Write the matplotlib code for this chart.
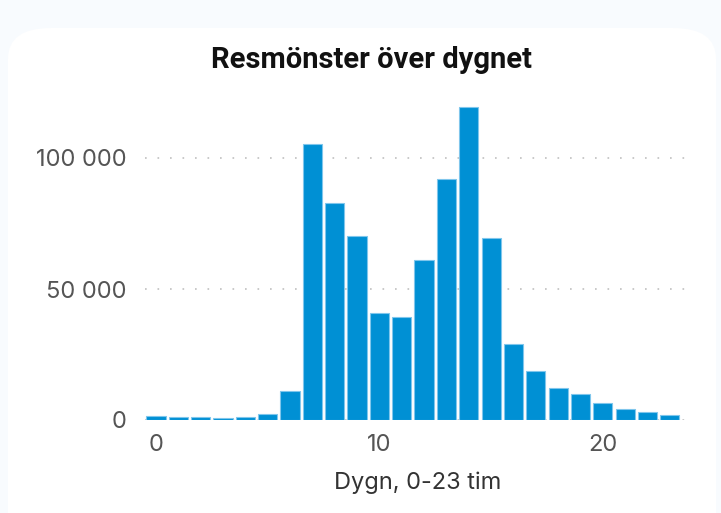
import numpy as np
import matplotlib.pyplot as plt
from matplotlib.patches import FancyBboxPatch
from matplotlib.ticker import FuncFormatter

# trips per hour of day
hours = np.arange(24)
trips = [1600, 1200, 1000, 900, 1000, 2400, 11000, 105300, 82800, 70200,
         40800, 39300, 61100, 92000, 119500, 69500, 29000, 18700, 12200,
         9900, 6500, 4200, 3000, 1900]

title = 'Resmönster över dygnet'
xlabel = 'Dygn, 0-23 tim'
yticks = [0, 50000, 100000]
xticks = [0, 10, 20]

plt.rcParams['font.family'] = ['Inter', 'DejaVu Sans']

fig = plt.figure(figsize=(7.21, 5.13), dpi=100)
fig.patch.set_facecolor('#f8fbfe')

# white card with rounded corners
card = FancyBboxPatch((8/721, -40/513), (716 - 8)/721, (40 + 513 - 28)/513,
                      boxstyle='round,pad=0,rounding_size=0.06',
                      transform=fig.transFigure, facecolor='white',
                      edgecolor='none', zorder=-5)
fig.patches.append(card)

ax = fig.add_axes([145/721, 93/513, 545/721, 327.5/513])
ax.set_facecolor('none')
ax.set_zorder(2)

ax.bar(hours, trips, width=0.86, color='#0090d4', edgecolor='#7fc6ec',
       linewidth=0.8, zorder=3)

ax.set_xlim(-0.49, 23.9)
ax.set_ylim(0, 125000)
ax.set_yticks(yticks)
ax.set_xticks(xticks)
ax.yaxis.set_major_formatter(FuncFormatter(lambda v, p: f'{int(v):,}'.replace(',', ' ')))

ax.grid(axis='y', linestyle=(0, (1, 6.5)), color='#c0c0c0', linewidth=1.2, zorder=0)
ax.grid(axis='x', visible=False)
for s in ax.spines.values():
    s.set_visible(False)
ax.tick_params(length=0, labelsize=17, colors='#555555')
ax.tick_params(axis='y', pad=13)
ax.tick_params(axis='x', pad=10)

ax.set_xlabel(xlabel, fontsize=17, color='#333333', labelpad=11)
fig.text(371/721, 1 - 60/513, title, ha='center', va='center',
         fontsize=21, fontweight='bold', color='#111111', family='Roboto')

fig.savefig('out.png', dpi=100)
